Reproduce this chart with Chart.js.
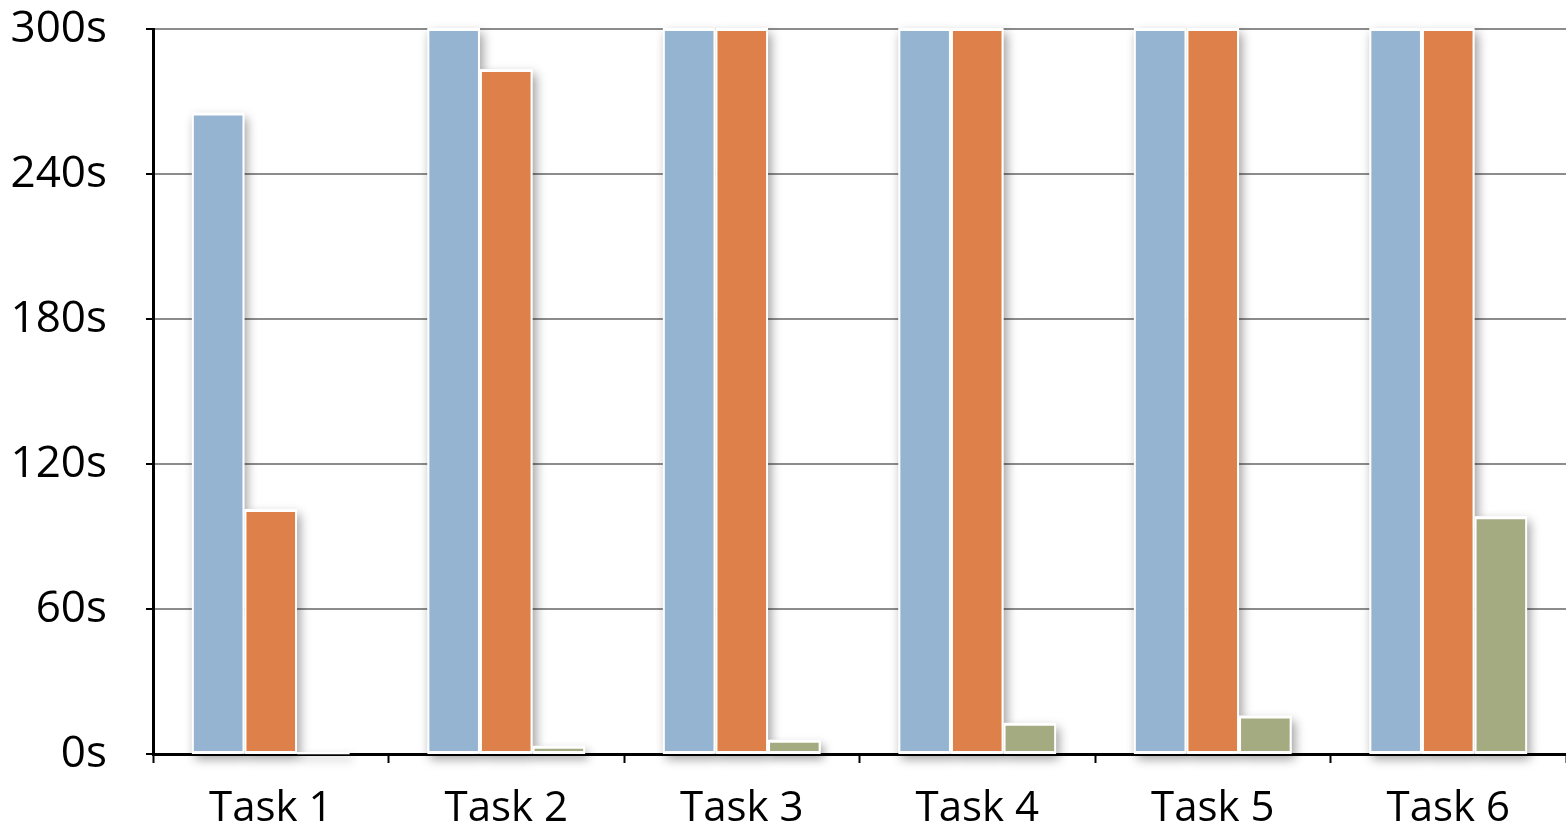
<!DOCTYPE html>
<html>
<head>
<meta charset="utf-8">
<script src="https://cdn.jsdelivr.net/npm/chart.js@4/dist/chart.umd.min.js"></script>
<style>
  html, body { margin: 0; padding: 0; background: #ffffff; }
  #wrap { width: 1566px; height: 826px; }
</style>
</head>
<body>
<div id="wrap"><canvas id="c" width="1566" height="826"></canvas></div>
<script>
// Task run times in seconds (capped at 300 s)
const categories = ['Task 1', 'Task 2', 'Task 3', 'Task 4', 'Task 5', 'Task 6'];
const seriesA = [265, 300, 300, 300, 300, 300];
const seriesB = [101, 283, 300, 300, 300, 300];
const seriesC = [0.3, 3, 5.5, 12.5, 15.5, 98];
const yTicks = [0, 60, 120, 180, 240, 300];

const fontFamily = '"Open Sans", "Noto Sans", sans-serif';

// Soft drop shadow under each bar, painted before the bars themselves
const barShadow = {
  id: 'barShadow',
  beforeDatasetsDraw(chart) {
    const ctx = chart.ctx;
    ctx.save();
    ctx.shadowColor = 'rgba(0,0,0,0.38)';
    ctx.shadowBlur = 10;
    ctx.shadowOffsetX = 3;
    ctx.shadowOffsetY = 5;
    ctx.fillStyle = '#ffffff';
    chart.data.datasets.forEach((ds, i) => {
      const meta = chart.getDatasetMeta(i);
      meta.data.forEach(el => {
        const p = el.getProps(['x', 'y', 'base', 'width'], true);
        const top = Math.min(p.y, p.base) - 1;
        const h = Math.abs(p.base - p.y) + 2;
        ctx.fillRect(p.x - p.width / 2, top, p.width, h);
      });
    });
    ctx.restore();
  }
};

const mk = (data, color) => ({
  data,
  backgroundColor: color,
  borderColor: '#ffffff',
  borderWidth: 2,
  borderSkipped: false,
  barPercentage: 1.0,
  categoryPercentage: 0.67
});

new Chart(document.getElementById('c'), {
  type: 'bar',
  data: {
    labels: categories,
    datasets: [
      mk(seriesA, '#95b4d2'),
      mk(seriesB, '#de8049'),
      mk(seriesC, '#a5ab80')
    ]
  },
  options: {
    responsive: false,
    animation: false,
    layout: { padding: { top: 29, right: -6, left: 0, bottom: 0 } },
    plugins: { legend: { display: false }, tooltip: { enabled: false } },
    scales: {
      x: {
        afterFit(scale) {
          scale.height = 72;
          scale.paddingLeft = 0;
          scale.paddingRight = 0;
        },
        grid: {
          offset: true,
          drawOnChartArea: false,
          tickLength: 9,
          tickColor: '#000000',
          tickWidth: 2
        },
        border: { color: '#000000', width: 3 },
        ticks: {
          color: '#000000',
          padding: 21,
          font: { family: fontFamily, size: 42 }
        }
      },
      y: {
        min: 0,
        max: 300,
        afterBuildTicks(scale) {
          scale.ticks = yTicks.map(v => ({ value: v }));
        },
        afterFit(scale) {
          scale.width = 153;
          scale.paddingTop = 0;
          scale.paddingBottom = 0;
        },
        grid: {
          color: ctx => (ctx.tick && ctx.tick.value === 0) ? '#000000' : '#8c8c8c',
          lineWidth: 2,
          tickLength: 7,
          tickColor: '#000000',
          tickWidth: 2
        },
        border: { color: '#000000', width: 3 },
        ticks: {
          color: '#000000',
          padding: 39,
          font: { family: fontFamily, size: 44 },
          callback: v => v + 's'
        }
      }
    }
  },
  plugins: [barShadow]
});
</script>
</body>
</html>
